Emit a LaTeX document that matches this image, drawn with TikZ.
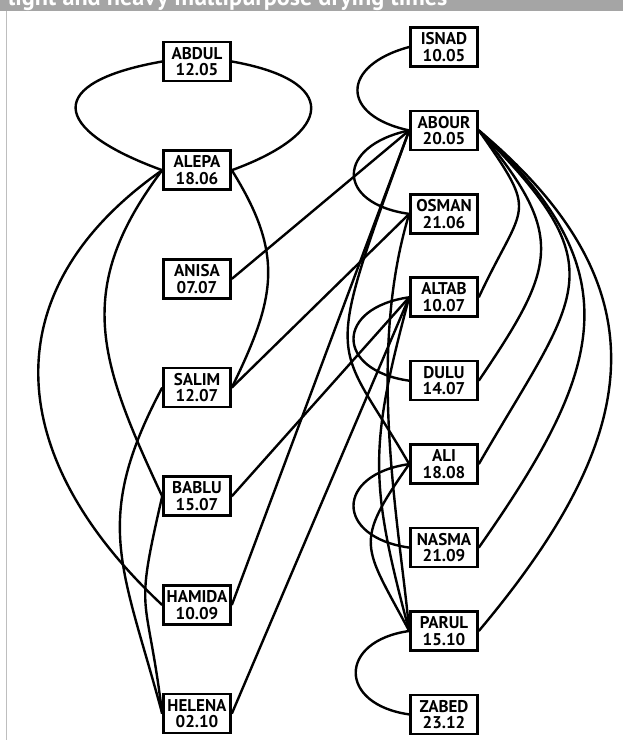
\documentclass[tikz,border=0pt]{standalone}
\usepackage{fontspec}
\setsansfont{PT Sans}
\usepackage{tikz}
\definecolor{barcolor}{RGB}{165,165,165}
\definecolor{framecolor}{RGB}{190,190,190}
\tikzset{
  pers/.style={draw, line width=2.6pt, minimum width=67pt, minimum height=39pt,
    inner sep=0pt, align=center, font=\sffamily\bfseries\fontsize{17}{16.5}\selectfont},
  link/.style={line width=2.4pt}
}

\begin{document}
\begin{tikzpicture}[x=1pt, y=1pt]
			%%%%% START %%%%%
			\useasboundingbox (0, 0) rectangle (623, 740);
			\clip (0, 0) rectangle (623, 740);
			
			\fill[white] (0, 0) rectangle (623, 740);
			\fill[barcolor] (0, 729) rectangle (623, 740);
			\node[anchor=base west, inner sep=0pt, text=white, font=\sffamily\bfseries\fontsize{24.2}{28}\selectfont] (title) at (8, 734) {light and heavy multipurpose drying times};
			\draw[framecolor, line width=1.6pt] (6.5, 0) -- (6.5, 729);
			
			% left column
			\node[pers] (ABDUL) at (197, 678.5) {ABDUL\\12.05};
			\node[pers] (ALEPA) at (197, 569.8) {ALEPA\\18.06};
			\node[pers] (ANISA) at (197, 461.1) {ANISA\\07.07};
			\node[pers] (SALIM) at (197, 352.4) {SALIM\\12.07};
			\node[pers] (BABLU) at (197, 243.7) {BABLU\\15.07};
			\node[pers] (HAMIDA) at (197, 135) {HAMIDA\\10.09};
			\node[pers] (HELENA) at (197, 26.3) {HELENA\\02.10};
			
			% right column
			\node[pers] (ISNAD) at (444, 693) {ISNAD\\10.05};
			\node[pers] (ABOUR) at (444, 609.6) {ABOUR\\20.05};
			\node[pers] (OSMAN) at (444, 526.1) {OSMAN\\21.06};
			\node[pers] (ALTAB) at (444, 442.7) {ALTAB\\10.07};
			\node[pers] (DULU) at (444, 359.3) {DULU\\14.07};
			\node[pers] (ALI) at (444, 275.9) {ALI\\18.08};
			\node[pers] (NASMA) at (444, 192.4) {NASMA\\21.09};
			\node[pers] (PARUL) at (444, 109) {PARUL\\15.10};
			\node[pers] (ZABED) at (444, 25.6) {ZABED\\23.12};
			
			% left side
			\draw[link] (ABDUL.west) to[out=190, in=160, distance=120pt] (ALEPA.west);
			\draw[link] (ABDUL.east) to[out=-10, in=20, distance=110pt] (ALEPA.east);
			\draw[link] (ALEPA.west) to[out=215, in=137, distance=213pt] (HAMIDA.west);
			\draw[link] (ALEPA.west) to[out=233, in=115, distance=149pt] (BABLU.west);
			\draw[link] (ALEPA.east) to[out=-58, in=64, distance=100pt] (SALIM.east);
			\draw[link] (SALIM.west) to[out=242, in=105, distance=152pt] (HELENA.west);
			\draw[link] (BABLU.west) to[out=257, in=97, distance=128pt] (HELENA.west);
			
			% across
			\draw[link] (ANISA.east) -- (ABOUR.west);
			\draw[link] (SALIM.east) -- (OSMAN.west);
			\draw[link] (BABLU.east) -- (ALTAB.west);
			\draw[link] (HAMIDA.east) -- (ABOUR.west);
			\draw[link] (HELENA.east) -- (ALTAB.west);
			
			% right side, west
			\draw[link] (ISNAD.west) to[out=195, in=168, distance=71pt] (ABOUR.west);
			\draw[link] (ABOUR.west) to[out=192, in=172, distance=75pt] (OSMAN.west);
			\draw[link] (ALTAB.west) to[out=188, in=172, distance=75pt] (DULU.west);
			\draw[link] (ALI.west) to[out=188, in=172, distance=75pt] (NASMA.west);
			\draw[link] (PARUL.west) to[out=188, in=172, distance=72pt] (ZABED.west);
			\draw[link] (ABOUR.west) to[out=250, in=120, out distance=260pt, in distance=150pt] (ALI.west);
			\draw[link] (ALI.west) to[out=235, in=118, distance=98pt] (PARUL.west);
			\draw[link] (ALTAB.west) to[out=255, in=105, distance=155pt] (PARUL.west);
			\draw[link] (OSMAN.west) to[out=253, in=95, out distance=150pt, in distance=100pt] (PARUL.west);
			
			% right side, east
			\draw[link] (ABOUR.east) to[out=-55, in=65, distance=107pt] (ALTAB.east);
			\draw[link] (ABOUR.east) to[out=-50, in=56, distance=138pt] (DULU.east);
			\draw[link] (ABOUR.east) to[out=-45, in=60, distance=199pt] (ALI.east);
			\draw[link] (ABOUR.east) to[out=-42, in=55, distance=213pt] (NASMA.east);
			\draw[link] (ABOUR.east) to[out=-40, in=50, distance=250pt] (PARUL.east);
			%%%%% END %%%%%
\end{tikzpicture}
\end{document}
